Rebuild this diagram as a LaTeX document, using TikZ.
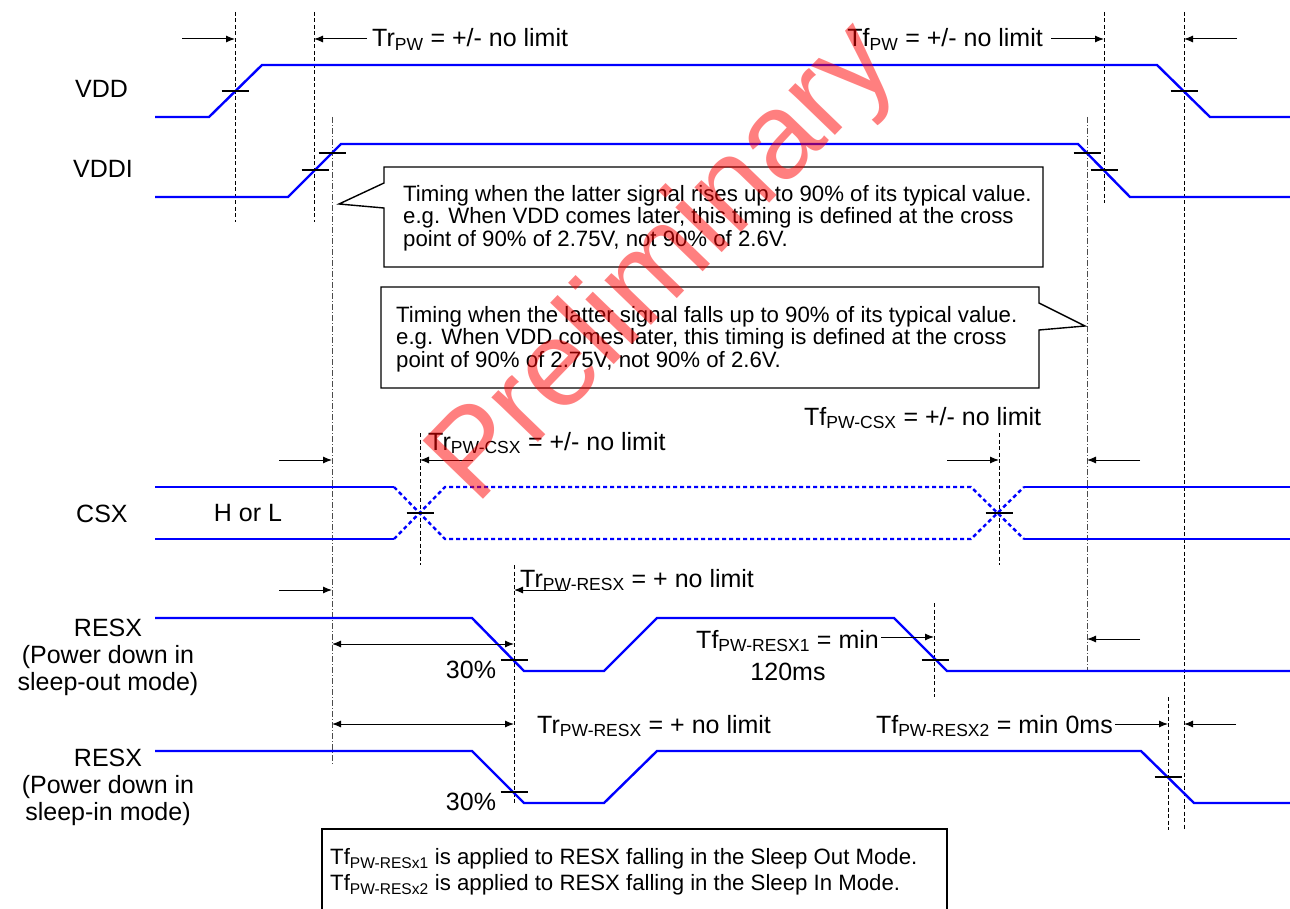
\documentclass[tikz,border=0pt]{standalone}
\usepackage{fontspec}
\setmainfont{Liberation Sans}
\usetikzlibrary{arrows.meta}

\begin{document}
\begin{tikzpicture}[x=1pt, y=-1pt, >={Latex[length=9pt,width=7pt]}]
    \tikzstyle{sig}=[blue, line width=2.4pt]
    \tikzstyle{sigdash}=[sig, dash pattern=on 4pt off 3pt]
    \tikzstyle{guide}=[black, line width=0.7pt, dash pattern=on 4pt off 2.5pt]
    \tikzstyle{guidedot}=[black!70, line width=0.7pt, dash pattern=on 6pt off 2pt on 1pt off 2pt]
    \tikzstyle{tick}=[black, line width=1.2pt]
    \tikzstyle{dimarrow}=[->, line width=1pt]
    \tikzstyle{lbl}=[inner sep=0pt, font=\fontsize{25}{27}\selectfont]
    \tikzstyle{note}=[inner sep=0pt, align=left, font=\fontsize{22.2}{22.5}\selectfont]
    \tikzstyle{callout}=[draw, line width=1.4pt]

    \fill[white] (0,0) rectangle (1290,909);
    \useasboundingbox (0,0) rectangle (1290,909);

    % signal names
    \node[lbl, anchor=base west] (vdd) at (75,98) {VDD};
    \node[lbl, anchor=base west] (vddi) at (73,178) {VDDI};
    \node[lbl, anchor=base west] (csx) at (76,522) {CSX};
    \node[lbl, anchor=north, align=center] (resxa) at (108,619) {RESX\\(Power down in\\sleep-out mode)};
    \node[lbl, anchor=north, align=center] (resxb) at (108,749) {RESX\\(Power down in\\sleep-in mode)};
    \node[lbl] (hl) at (248,513) {H or L};

    % guide lines
    \foreach \x/\a/\b in {235/12/222, 314/12/222, 1104/12/203, 1184/12/830, 420/433/565,
                          999/433/565, 514/565/803, 934/603/697, 1168/697/830}
        \draw[guide] (\x,\a) -- (\x,\b);
    \foreach \x/\b in {332/765, 1087/670}
        \draw[guidedot] (\x,117) -- (\x,\b);

    % waveforms
    \draw[sig] (155,117) -- (209,117) -- (262,65) -- (1157,65) -- (1210,117) -- (1290,117);
    \draw[sig] (155,197) -- (288,197) -- (341,144) -- (1078,144) -- (1130,197) -- (1290,197);
    \draw[sig] (155,487) -- (394,487) (155,539) -- (394,539);
    \draw[sigdash] (394,487) -- (445,539) -- (971,539) -- (1024,487);
    \draw[sigdash] (394,539) -- (445,487) -- (971,487) -- (1024,539);
    \draw[sig] (1024,487) -- (1290,487) (1024,539) -- (1290,539);
    \draw[sig] (155,618) -- (472,618) -- (524,671) -- (604,671) -- (657,618) -- (894,618) -- (947,671) -- (1290,671);
    \draw[sig] (155,751) -- (472,751) -- (524,803) -- (604,803) -- (657,751) -- (1141,751) -- (1194,803) -- (1290,803);

    % crossing marks
    \foreach \x/\y in {235/91, 332/153, 315/170, 1087/153, 1104/170, 1184/91, 420/513,
                       999/513, 514/660, 935/660, 514/792, 1168/777}
        \draw[tick] (\x-13.5,\y) -- (\x+13.5,\y);

    % callouts
    \draw[callout] (384,167) -- (1043,167) -- (1043,267) -- (384,267) -- (384,208) -- (339,204) -- (384,183) -- cycle;
    \node[note, anchor=north west] (notea) at (403,185) {Timing when the latter signal rises up to 90\% of its typical value.\\e.g. When VDD comes later, this timing is defined at the cross\\point of 90\% of 2.75V, not 90\% of 2.6V.};
    \draw[callout] (381,287) -- (1039,287) -- (1039,303) -- (1085,326) -- (1039,330) -- (1039,388) -- (381,388) -- cycle;
    \node[note, anchor=north west] (noteb) at (396,306) {Timing when the latter signal falls up to 90\% of its typical value.\\e.g. When VDD comes later, this timing is defined at the cross\\point of 90\% of 2.75V, not 90\% of 2.6V.};
    \draw[callout] (322,915) -- (322,829) -- (947,829) -- (947,915);
    \node[note, anchor=north west, font=\fontsize{22.2}{26}\selectfont] (notec) at (330,848) {Tf\textsubscript{PW-RESx1} is applied to RESX falling in the Sleep Out Mode.\\Tf\textsubscript{PW-RESx2} is applied to RESX falling in the Sleep In Mode.};

    % timing labels
    \node[lbl, anchor=base west] (trpw) at (372,47) {Tr\textsubscript{PW} = +/- no limit};
    \node[lbl, anchor=base east] (tfpw) at (1043,47) {Tf\textsubscript{PW} = +/- no limit};
    \node[lbl, anchor=base west] (trcsx) at (428,450) {Tr\textsubscript{PW-CSX} = +/- no limit};
    \node[lbl, anchor=base west] (tfcsx) at (804,425) {Tf\textsubscript{PW-CSX} = +/- no limit};
    \node[lbl, anchor=base west] (trresa) at (520,587) {Tr\textsubscript{PW-RESX} = + no limit};
    \node[lbl, anchor=base east] (tfresa) at (879,648) {Tf\textsubscript{PW-RESX1} = min};
    \node[lbl, anchor=base] (ms) at (788,680) {120ms};
    \node[lbl] (pcta) at (471,670) {30\%};
    \node[lbl] (pctb) at (471,802) {30\%};
    \node[lbl, anchor=base west] (trresb) at (537,733) {Tr\textsubscript{PW-RESX} = + no limit};
    \node[lbl, anchor=base east] (tfresb) at (1113,733) {Tf\textsubscript{PW-RESX2} = min 0ms};

    % arrows
    \coordinate (p1) at (182,39);   \coordinate (q1) at (235,39);
    \coordinate (q2) at (314,39);   \coordinate (q3) at (1104,39);
    \coordinate (p4) at (1237,39);  \coordinate (q4) at (1184,39);
    \draw[dimarrow] (p1) -- (q1);
    \draw[dimarrow] ([xshift=-5pt]trpw.west |- q2) -- (q2);
    \draw[dimarrow] ([xshift=8pt]tfpw.east |- q3) -- (q3);
    \draw[dimarrow] (p4) -- (q4);

    \coordinate (p5) at (279,460);  \coordinate (q5) at (332,460);
    \coordinate (p6) at (473,460);  \coordinate (q6) at (420,460);
    \coordinate (p7) at (947,460);  \coordinate (q7) at (999,460);
    \coordinate (p8) at (1140,460); \coordinate (q8) at (1087,460);
    \draw[dimarrow] (p5) -- (q5);
    \draw[dimarrow] (p6) -- (q6);
    \draw[dimarrow] (p7) -- (q7);
    \draw[dimarrow] (p8) -- (q8);

    \coordinate (p9) at (279,590);  \coordinate (q9) at (332,590);
    \coordinate (p10) at (566,590); \coordinate (q10) at (514,590);
    \coordinate (p11) at (332,644); \coordinate (q11) at (514,644);
    \coordinate (q12) at (934,637);
    \coordinate (p13) at (1140,639); \coordinate (q13) at (1087,639);
    \draw[dimarrow] (p9) -- (q9);
    \draw[dimarrow] (p10) -- (q10);
    \draw[dimarrow, <->] (p11) -- (q11);
    \draw[dimarrow] ([xshift=2pt]tfresa.east |- q12) -- (q12);
    \draw[dimarrow] (p13) -- (q13);

    \coordinate (p14) at (332,724);  \coordinate (q14) at (514,724);
    \coordinate (q15) at (1168,724);
    \coordinate (p16) at (1236,724); \coordinate (q16) at (1184,724);
    \draw[dimarrow, <->] (p14) -- (q14);
    \draw[dimarrow] ([xshift=2pt]tfresb.east |- q15) -- (q15);
    \draw[dimarrow] (p16) -- (q16);

    % watermark
    \node[rotate=46, anchor=base west, inner sep=0pt, text=red, text opacity=0.5,
          font=\fontsize{122}{122}\selectfont] (wm) at (476,507) {Preliminary};
\end{tikzpicture}
\end{document}
